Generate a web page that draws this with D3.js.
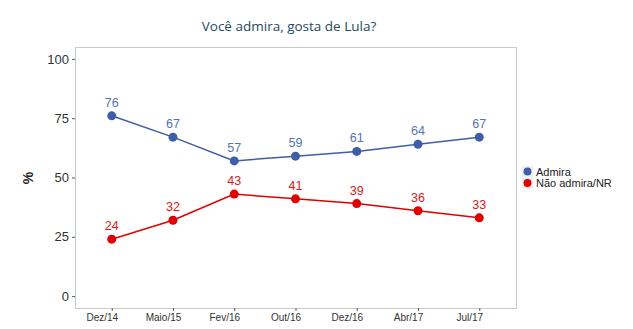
<!DOCTYPE html>
<html>
<head>
<meta charset="utf-8">
<script src="https://cdn.jsdelivr.net/npm/d3@7"></script>
<style>
  body { margin: 0; background: #fff; }
  svg { display: block; font-family: "Liberation Sans", Arial, sans-serif; }
</style>
</head>
<body>
<div id="chart"></div>
<script>
const periods = ["Dez/14", "Maio/15", "Fev/16", "Out/16", "Dez/16", "Abr/17", "Jul/17"];
const admira = [76, 67, 57, 59, 61, 64, 67];
const naoAdmira = [24, 32, 43, 41, 39, 36, 33];
const yTicks = [0, 25, 50, 75, 100];

const series = [
    { name: "Admira", values: admira, color: "#3f5ea8", labelColor: "#5572b4" },
    { name: "Não admira/NR", values: naoAdmira, color: "#e00000", labelColor: "#e01818" }
];

const width = 633;
const height = 329;
const panel = { left: 75, right: 516, top: 47, bottom: 308 };

const svg = d3.select("#chart")
    .append("svg")
    .attr("width", width)
    .attr("height", height);

const x = d3.scalePoint()
    .domain(periods)
    .range([panel.left, panel.right])
    .padding(0.6);

const y = d3.scaleLinear()
    .domain([-5, 105])
    .range([panel.bottom, panel.top]);

// title
svg.append("text")
    .attr("x", 289)
    .attr("y", 31)
    .attr("text-anchor", "middle")
    .attr("font-family", "'Open Sans', sans-serif")
    .attr("font-size", "13.5px")
    .attr("fill", "#244a5c")
    .text("Você admira, gosta de Lula?");

// panel border
svg.append("rect")
    .attr("x", panel.left + 0.5)
    .attr("y", panel.top + 0.5)
    .attr("width", panel.right - panel.left)
    .attr("height", panel.bottom - panel.top)
    .attr("fill", "none")
    .attr("stroke", "#c8c8c8")
    .attr("stroke-width", 1);

// y axis
const yAxis = svg.append("g")
    .attr("transform", `translate(${panel.left},0)`)
    .call(d3.axisLeft(y).tickValues(yTicks).tickSize(3).tickPadding(3));
yAxis.select(".domain").remove();
yAxis.selectAll("line").attr("stroke", "#555");
yAxis.selectAll("text").attr("font-size", "13px").attr("fill", "#333");

// x axis (labels sit a bit left of their ticks in the original)
const xAxis = svg.append("g")
    .attr("transform", `translate(0,${panel.bottom})`)
    .call(d3.axisBottom(x).tickSize(3).tickPadding(3));
xAxis.select(".domain").remove();
xAxis.selectAll("line").attr("stroke", "#555");
xAxis.selectAll("text")
    .attr("dx", -10)
    .attr("font-size", "10px")
    .attr("fill", "#333");

// y label
svg.append("text")
    .attr("transform", "translate(33,178) rotate(-90)")
    .attr("text-anchor", "middle")
    .attr("font-size", "14px")
    .attr("font-weight", "bold")
    .attr("fill", "#222")
    .text("%");

const line = d3.line()
    .x((d, i) => x(periods[i]))
    .y(d => y(d));

series.forEach(s => {
    svg.append("path")
        .datum(s.values)
        .attr("d", line)
        .attr("fill", "none")
        .attr("stroke", s.color)
        .attr("stroke-width", 1.5);

    svg.append("g").selectAll("circle")
        .data(s.values)
        .join("circle")
        .attr("cx", (d, i) => x(periods[i]))
        .attr("cy", d => y(d))
        .attr("r", 4.5)
        .attr("fill", s.color);

    svg.append("g").selectAll("text")
        .data(s.values)
        .join("text")
        .attr("x", (d, i) => x(periods[i]))
        .attr("y", d => y(d) - 9)
        .attr("text-anchor", "middle")
        .attr("font-size", "12.5px")
        .attr("fill", s.labelColor)
        .text(d => d);
});

// legend
const legend = svg.append("g")
    .attr("transform", "translate(522,166)");

const item = legend.selectAll("g")
    .data(series)
    .join("g")
    .attr("transform", (d, i) => `translate(0,${i * 11.5})`);

item.append("rect")
    .attr("width", 11)
    .attr("height", 11)
    .attr("fill", "#f0f0f0");

item.append("path")
    .attr("transform", "translate(5.5,5.5)")
    .attr("d", d3.symbol().type(d3.symbolCircle).size(50))
    .attr("fill", d => d.color);

item.append("text")
    .attr("x", 14)
    .attr("y", 9.5)
    .attr("font-size", "11px")
    .attr("fill", "#222")
    .text(d => d.name);
</script>
</body>
</html>
